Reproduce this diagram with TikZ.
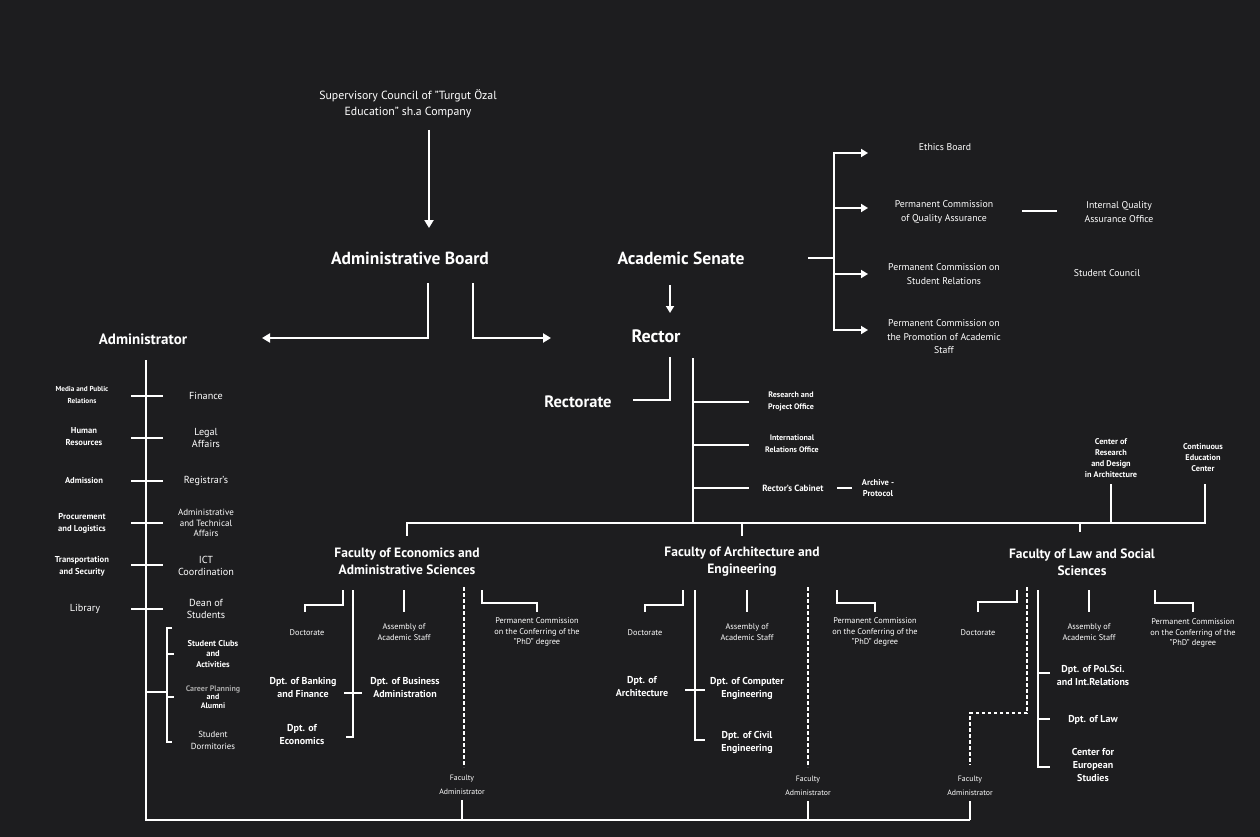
\documentclass[tikz,border=0pt]{standalone}
\usepackage{fontspec}
\setmainfont{PT Sans}
\usetikzlibrary{arrows.meta}
\definecolor{bg}{HTML}{1D1D1F}
\begin{document}
\begin{tikzpicture}[x=1pt,y=-1pt,
  ln/.style={white, line width=2.2pt},
  sl/.style={white, line width=1.5pt},
  arr/.style={white, line width=2.4pt, -{Triangle[length=8pt,width=9pt]}},
  sarr/.style={white, line width=1.8pt, -{Triangle[length=7pt,width=8pt]}},
  dsh/.style={white, line width=1.8pt, dash pattern=on 3.5pt off 2.5pt},
  t/.style={text=white, align=center, inner sep=0pt},
  sup/.style={t, font=\fontsize{11.8}{16}\selectfont},
  big/.style={t, font=\bfseries\fontsize{17.5}{20}\selectfont},
  comm/.style={t, font=\fontsize{9.8}{13.5}\selectfont},
  admL/.style={t, font=\bfseries\fontsize{8.6}{12}\selectfont},
  admR/.style={t, font=\fontsize{10.2}{12.5}\selectfont},
  office/.style={t, font=\bfseries\fontsize{8}{12}\selectfont},
  ctr/.style={t, font=\bfseries\fontsize{8.3}{11}\selectfont},
  fac/.style={t, font=\bfseries\fontsize{13.5}{17}\selectfont},
  sub/.style={t, font=\fontsize{8.3}{10.8}\selectfont},
  dept/.style={t, font=\bfseries\fontsize{10}{13}\selectfont},
  fadm/.style={t, font=\fontsize{7.8}{14}\selectfont}]
\useasboundingbox (0,0) rectangle (1260,837);
\fill[bg] (0,0) rectangle (1260,837);

% ---------- top ----------
\node[sup] (sup) at (408,104) {Supervisory Council of "Turgut Özal\\Education" sh.a Company};
\node[big] (board) at (410,258) {Administrative Board};
\node[big] (senate) at (681,258) {Academic Senate};
\node[t, font=\bfseries\fontsize{18}{20}\selectfont] (rector) at (656,336) {Rector};
\node[t, font=\bfseries\fontsize{16.5}{18}\selectfont] (rectorate) at (578,402) {Rectorate};
\node[t, font=\bfseries\fontsize{15}{17}\selectfont] (admin) at (143,339) {Administrator};

\coordinate (supA) at (429,130);
\coordinate (supB) at (429,228);
\draw[arr] (supA) -- (supB);
\coordinate (bL) at (428,283);
\coordinate (bR) at (473,283);
\coordinate (adminArr) at (262,338);
\coordinate (rectArr) at (551,338);
\draw[arr] (bL) |- (adminArr);
\draw[arr] (bR) |- (rectArr);
\coordinate (senA) at (670,285);
\coordinate (senB) at (670,313);
\draw[sarr] (senA) -- (senB);
\coordinate (rtA) at (670,357);
\coordinate (rtB) at (633,400);
\draw[sl] (rtA) |- (rtB);

% ---------- commissions ----------
\node[comm] (ethics) at (945,147) {Ethics Board};
\node[comm] (pcqa) at (944,212) {Permanent Commission\\of Quality Assurance};
\node[comm] (iqao) at (1119,212) {Internal Quality\\Assurance Office};
\node[comm] (pcsr) at (944,274) {Permanent Commission on\\Student Relations};
\node[comm] (sc) at (1107,273) {Student Council};
\node[comm] (pcpa) at (944,337) {Permanent Commission on\\the Promotion of Academic\\Staff};
\coordinate (senR) at (808,258);
\coordinate (cv) at (834,258);
\draw[ln] (senR) -- (cv);
\draw[ln] (834,153) -- (834,330);
\foreach \y in {153,208,274,330} \draw[sarr] (833,\y) -- (868,\y);
\coordinate (qa1) at (1022,211);
\coordinate (qa2) at (1057,211);
\draw[ln] (qa1) -- (qa2);

% ---------- rector offices ----------
\coordinate (rv) at (693,358);
\coordinate (bar) at (693,523);
\draw[ln] (rv) -- (bar);
\node[office] (rpo) at (791,401) {Research and\\Project Office};
\node[office] (iro) at (792,444) {International\\Relations Office};
\node[t, font=\bfseries\fontsize{9}{12}\selectfont] (cab) at (793,488) {Rector's Cabinet};
\node[t, font=\bfseries\fontsize{8.5}{11}\selectfont] (arch) at (878,488) {Archive -\\Protocol};
\draw[sl] (693,402) -- (749,402);
\draw[sl] (693,445) -- (749,445);
\draw[sl] (693,488) -- (749,488);
\draw[sl] (837,488) -- (852,488);

% ---------- main bar ----------
\node[ctr] (crd) at (1111,458) {Center of\\Research\\and Design\\in Architecture};
\node[ctr] (cec) at (1203,458) {Continuous\\Education\\Center};
\draw[ln] (407,523) -- (1205,523);
\draw[ln] (407,522) -- (407,536);
\draw[ln] (742,522) -- (742,536);
\draw[sl] (1080,522) -- (1080,532);
\draw[ln] (1111,484) -- (1111,524);
\draw[ln] (1205,484) -- (1205,524);

% ---------- administrator column ----------
\coordinate (av) at (146,360);
\coordinate (ab) at (146,820);
\coordinate (fab) at (970,820);
\draw[ln] (av) -- (ab) -- (fab);
\foreach \y in {396,438,481,523,565,609} \draw[sl] (131,\y) -- (163,\y);
\node[t, font=\bfseries\fontsize{7.2}{11.5}\selectfont] (mpr) at (82,395) {Media and Public\\Relations};
\node[admL] (hr) at (84,437) {Human\\Resources};
\node[admL] (adm) at (84,480) {Admission};
\node[admL] (proc) at (82,523) {Procurement\\and Logistics};
\node[admL] (trans) at (82,566) {Transportation\\and Security};
\node[admR] (lib) at (85,609) {Library};
\node[admR] (fin) at (206,396) {Finance};
\node[admR] (legal) at (206,438) {Legal\\Affairs};
\node[admR] (reg) at (206,481) {Registrar's};
\node[t, font=\fontsize{9}{10.5}\selectfont] (ata) at (206,523) {Administrative\\and Technical\\Affairs};
\node[admR] (ict) at (206,566) {ICT\\Coordination};
\node[admR] (dean) at (206,609) {Dean of\\Students};
% bracket
\draw[sl] (172,628) -- (167,628) -- (167,742) -- (172,742);
\draw[sl] (167,654) -- (174,654);
\draw[sl] (167,697) -- (174,697);
\draw[sl] (146,692) -- (167,692);
\node[t, font=\bfseries\fontsize{8.5}{10.5}\selectfont] (clubs) at (213,654) {Student Clubs\\and\\Activities};
\node[t, font=\bfseries\fontsize{8}{8.8}\selectfont] (career) at (213,697) {\textcolor{gray!70}{Career Planning}\\and\\Alumni};
\node[t, font=\fontsize{8.8}{12}\selectfont] (dorm) at (213,740) {Student\\Dormitories};

% ---------- Faculty of Economics ----------
\node[fac] (fe) at (407,561) {Faculty of Economics and\\Administrative Sciences};
\draw[sl] (343,590) -- (343,605) -- (305,605) -- (305,612);
\node[sub] (fedoc) at (307,633) {Doctorate};
\draw[sl] (353,590) -- (353,737) -- (346,737);
\draw[sl] (344,693) -- (362,693);
\node[dept] (febf) at (303,688) {Dpt. of Banking\\and Finance};
\node[dept] (feba) at (405,688) {Dpt. of Business\\Administration};
\node[dept] (feec) at (302,735) {Dpt. of\\Economics};
\draw[sl] (404,590) -- (404,612);
\node[sub] (feas) at (404,632) {Assembly of\\Academic Staff};
\draw[dsh] (464,587) -- (464,767);
\node[fadm] (fa1) at (462,785) {Faculty\\Administrator};
\draw[sl] (462,800) -- (462,820);
\draw[sl] (482,590) -- (482,603) -- (537,603) -- (537,612);
\node[sub] (fepc) at (537,632) {Permanent Commission\\on the Conferring of the\\"PhD" degree};

% ---------- Faculty of Architecture ----------
\node[fac] (fa) at (742,562) {Faculty of Architecture and\\Engineering};
\draw[sl] (683,590) -- (683,605) -- (645,605) -- (645,612);
\node[sub] (fadoc) at (645,633) {Doctorate};
\draw[sl] (695,590) -- (695,740) -- (705,740);
\draw[sl] (685,690) -- (705,690);
\node[dept] (faar) at (642,687) {Dpt. of\\Architecture};
\node[dept] (face) at (747,688) {Dpt. of Computer\\Engineering};
\node[dept] (facv) at (747,742) {Dpt. of Civil\\Engineering};
\draw[sl] (747,590) -- (747,612);
\node[sub] (faas) at (747,632) {Assembly of\\Academic Staff};
\draw[dsh] (808,587) -- (808,767);
\node[fadm] (fa2) at (808,786) {Faculty\\Administrator};
\draw[sl] (808,801) -- (808,820);
\draw[sl] (837,590) -- (837,603) -- (875,603) -- (875,612);
\node[sub] (fapc) at (875,632) {Permanent Commission\\on the Conferring of the\\"PhD" degree};

% ---------- Faculty of Law ----------
\node[fac] (fl) at (1082,562) {Faculty of Law and Social\\Sciences};
\draw[sl] (1017,590) -- (1017,602) -- (978,602) -- (978,612);
\node[sub] (fldoc) at (978,633) {Doctorate};
\draw[dsh] (1027,587) -- (1027,713) -- (970,713) -- (970,765);
\node[fadm] (fa3) at (970,786) {Faculty\\Administrator};
\draw[sl] (970,801) -- (970,820);
\draw[sl] (1038,590) -- (1038,767) -- (1050,767);
\draw[sl] (1038,673) -- (1050,673);
\draw[sl] (1038,719) -- (1050,719);
\node[dept] (flps) at (1093,675) {Dpt. of Pol.Sci.\\and Int.Relations};
\node[dept] (fllaw) at (1093,720) {Dpt. of Law};
\node[dept] (fleu) at (1093,765) {Center for\\European\\Studies};
\draw[sl] (1089,590) -- (1089,612);
\node[sub] (flas) at (1089,632) {Assembly of\\Academic Staff};
\draw[sl] (1155,590) -- (1155,603) -- (1193,603) -- (1193,612);
\node[sub] (flpc) at (1193,633) {Permanent Commission\\on the Conferring of the\\"PhD" degree};
\end{tikzpicture}
\end{document}
